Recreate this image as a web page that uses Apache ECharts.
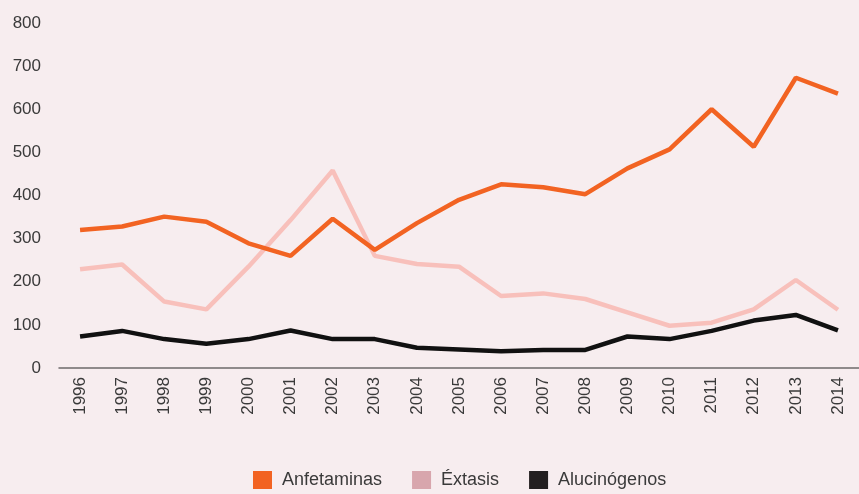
<!DOCTYPE html>
<html><head><meta charset="utf-8">
<script src="https://cdn.jsdelivr.net/npm/echarts@6/dist/echarts.min.js"></script>
<style>html,body{margin:0;padding:0;background:#f7edef;}#c{width:859px;height:494px;}</style>
</head><body><div id="c"></div>
<script>
const years = ['1996','1997','1998','1999','2000','2001','2002','2003','2004','2005','2006','2007','2008','2009','2010','2011','2012','2013','2014'];
const anfetaminas = [320,328,351,339,289,260,346,274,336,390,426,419,403,463,507,600,513,673,636];
const extasis = [229,240,154,136,235,343,458,260,241,235,167,173,160,129,98,105,136,204,135];
const alucinogenos = [73,86,67,56,67,87,67,67,47,43,39,42,42,73,67,86,110,123,87];
const yTicks = [0,100,200,300,400,500,600,700,800];

const chart = echarts.init(document.getElementById('c'));
const font = 'Liberation Sans, Arial, sans-serif';
chart.setOption({
  backgroundColor: '#f7edef',
  animation: false,
  grid: { left: 59, top: 23, width: 806, height: 345 },
  legend: {
    top: 466, left: 248, itemWidth: 19, itemHeight: 18, itemGap: 30,
    icon: 'rect',
    textStyle: { color: '#3a3a3a', fontSize: 18, fontFamily: font, padding: [0,0,0,5] },
    data: [
      { name: 'Anfetaminas', itemStyle: { color: '#f26322' } },
      { name: 'Éxtasis', itemStyle: { color: '#d8a6ad' } },
      { name: 'Alucinógenos', itemStyle: { color: '#231f20' } }
    ]
  },
  xAxis: {
    type: 'category', data: years, boundaryGap: true,
    axisLine: { lineStyle: { color: '#6e6a6b', width: 1.5 } },
    axisTick: { show: false },
    axisLabel: { rotate: 90, margin: 9, color: '#3a3a3a', fontSize: 17, fontFamily: font }
  },
  yAxis: {
    type: 'value', min: yTicks[0], max: yTicks[yTicks.length-1], interval: 100,
    splitLine: { show: false }, axisLine: { show: false }, axisTick: { show: false },
    axisLabel: { margin: 18, color: '#3a3a3a', fontSize: 17, fontFamily: font }
  },
  series: [
    { name: 'Anfetaminas', type: 'line', data: anfetaminas, symbol: 'none', lineStyle: { color: '#f26322', width: 4.5 }, itemStyle: { color: '#f26322' }, z: 3 },
    { name: 'Éxtasis', type: 'line', data: extasis, symbol: 'none', lineStyle: { color: '#f8c0bb', width: 4.5 }, itemStyle: { color: '#d8a6ad' }, z: 2 },
    { name: 'Alucinógenos', type: 'line', data: alucinogenos, symbol: 'none', lineStyle: { color: '#111111', width: 4.5 }, itemStyle: { color: '#231f20' }, z: 4 }
  ]
});
</script></body></html>
